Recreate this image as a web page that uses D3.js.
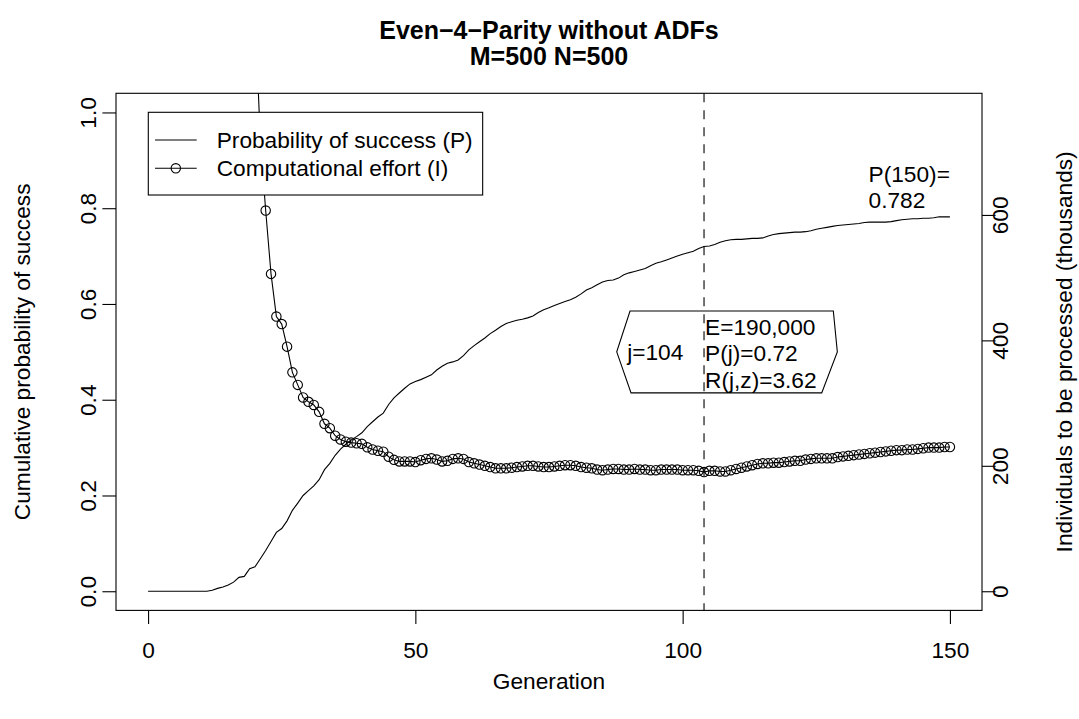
<!DOCTYPE html>
<html><head><meta charset="utf-8">
<script src="https://cdn.jsdelivr.net/npm/d3@7"></script>
<style>
body{margin:0;background:#fff}
text{font-family:"Liberation Sans",Arial,Helvetica,sans-serif;fill:#000}
</style>
</head><body>
<svg id="c" width="1079" height="719"></svg>
<script>
// ---------------- data ----------------
const generations = d3.range(0, 151);
const probSuccess = [
0,0,0,0,0,0,0,0,0,0,0,0,
0.002,0.006,0.009,0.013,0.019,0.029,0.031,0.047,0.051,0.068,
0.085,0.104,0.123,0.131,0.147,0.169,0.184,0.200,0.210,0.220,
0.233,0.254,0.267,0.284,0.297,0.307,0.316,0.323,0.331,0.344,
0.354,0.364,0.372,0.390,0.404,0.414,0.424,0.433,0.438,0.442,
0.447,0.452,0.462,0.470,0.476,0.479,0.483,0.492,0.504,0.513,
0.521,0.529,0.538,0.545,0.553,0.559,0.563,0.566,0.568,0.571,
0.575,0.582,0.588,0.592,0.597,0.601,0.605,0.609,0.614,0.621,
0.629,0.634,0.640,0.646,0.649,0.650,0.654,0.661,0.665,0.668,
0.671,0.674,0.680,0.685,0.688,0.692,0.696,0.700,0.704,0.707,
0.710,0.716,0.720,0.721,0.724,0.729,0.732,0.734,0.735,0.735,
0.736,0.737,0.737,0.738,0.742,0.745,0.747,0.748,0.749,0.750,
0.750,0.751,0.753,0.756,0.758,0.760,0.762,0.764,0.765,0.766,
0.767,0.768,0.770,0.771,0.771,0.771,0.771,0.772,0.774,0.776,
0.777,0.778,0.778,0.779,0.779,0.780,0.782,0.782,0.782
];
// computational effort, thousands of individuals (null where P = 0)
const effortThousands = [
null,null,null,null,null,null,null,null,null,null,null,null,
14950,5355,3820,2816,2041,1408,1389,957,924,720,
607,506,438,426,390,349,329,309,302,297,
286,267,260,248,242,238.5,237,236,235,229.5,
226,224,222.5,214.5,209.5,207,207,207,206,209,
211,212,210,207,208,211,212,211,206,204,
202,200,198,196,196,196,197,198,199,200,
200,199,198,198,199,200,201,201,200,198,
197,196,194,193,194,195,195,194,194,195,
194,194,193,193,194,194,194,194,193,193,
193,192,190,192,192,191,191,193,195,197,
199,201,203,204,204,205,205,206,207,208,
208,210,211,212,212,212,212,214,215,216,
217,218,219,220,221,222,223,224,225,225,
226,226,227,228,229,229,229,230,230
];
const xTicks = [0, 50, 100, 150];
const leftTicks = [0, 0.2, 0.4, 0.6, 0.8, 1.0];
const leftTickLabels = ["0.0", "0.2", "0.4", "0.6", "0.8", "1.0"];
const rightTicks = [0, 200, 400, 600];
const rightTickLabels = ["0", "200", "400", "600"];
const titleLines = ["Even\u22124\u2212Parity without ADFs", "M=500 N=500"];
const legendLabels = ["Probability of success (P)", "Computational effort (I)"];
const bestGen = 104;
const boxRight = ["E=190,000", "P(j)=0.72", "R(j,z)=3.62"];
const boxLeft = "j=104";
const finalLabel = ["P(150)=", "0.782"];
const rightMax = 763.4;

// ---------------- layout ----------------
const FS = 22.7;
const FONT = '"Liberation Sans",Arial,sans-serif';
const plot = {left:116, right:982, top:93.3, bottom:610.4};
const svg = d3.select("#c");
const x = d3.scaleLinear().domain([-6, 156]).range([plot.left, plot.right]);
const yL = d3.scaleLinear().domain([-0.04, 1.04]).range([plot.bottom, plot.top]);
const yR = d3.scaleLinear().domain([-0.04*rightMax, 1.04*rightMax]).range([plot.bottom, plot.top]);

svg.append("rect").attr("width",1079).attr("height",719).attr("fill","#fff");

svg.append("defs").append("clipPath").attr("id","clip")
  .append("rect").attr("x",plot.left).attr("y",plot.top)
  .attr("width",plot.right-plot.left).attr("height",plot.bottom-plot.top);

const gPlot = svg.append("g").attr("clip-path","url(#clip)");

// P line
gPlot.append("path")
  .attr("d", d3.line().x((d,i)=>x(generations[i])).y(d=>yL(d))(probSuccess))
  .attr("fill","none").attr("stroke","#000").attr("stroke-width",1.1);

// I line + points
const effPts = generations.map((g,i)=>({g, v:effortThousands[i]})).filter(d=>d.v!==null);
gPlot.append("path")
  .attr("d", d3.line().x(d=>x(d.g)).y(d=>yR(d.v))(effPts))
  .attr("fill","none").attr("stroke","#000").attr("stroke-width",1.1);
gPlot.selectAll("circle.pt").data(effPts).join("circle")
  .attr("class","pt").attr("cx",d=>x(d.g)).attr("cy",d=>yR(d.v)).attr("r",4.7)
  .attr("fill","none").attr("stroke","#000").attr("stroke-width",1.1);

// vertical dashed line at best generation
svg.append("line").attr("x1",x(bestGen)).attr("x2",x(bestGen))
  .attr("y1",plot.top).attr("y2",plot.bottom)
  .attr("stroke","#000").attr("stroke-width",1.1).attr("stroke-dasharray","9,8");

// plot box
svg.append("rect").attr("x",plot.left).attr("y",plot.top)
  .attr("width",plot.right-plot.left).attr("height",plot.bottom-plot.top)
  .attr("fill","none").attr("stroke","#000").attr("stroke-width",1.1);

// x axis
const ax = svg.append("g").attr("transform",`translate(0,${plot.bottom})`)
  .call(d3.axisBottom(x).tickValues(xTicks).tickSize(13.6).tickFormat(d=>String(d)));
ax.select(".domain").remove();
ax.selectAll("line").attr("stroke","#000").attr("stroke-width",1.1);
ax.selectAll("text").attr("y",48).attr("dy",0).style("font-size",FS+"px").style("font-family",FONT);

// left axis
const al = svg.append("g").attr("transform",`translate(${plot.left},0)`)
  .call(d3.axisLeft(yL).tickValues(leftTicks).tickSize(13.6).tickFormat((d,i)=>leftTickLabels[i]));
al.select(".domain").remove();
al.selectAll("line").attr("stroke","#000").attr("stroke-width",1.1);
al.selectAll("text").attr("x",null).attr("dy",null).attr("text-anchor","middle")
  .attr("transform",`translate(${88-plot.left+0.35*FS},0) rotate(-90)`)
  .style("font-size",FS+"px").style("font-family",FONT);

// right axis
const ar = svg.append("g").attr("transform",`translate(${plot.right},0)`)
  .call(d3.axisRight(yR).tickValues(rightTicks).tickSize(13.6).tickFormat((d,i)=>rightTickLabels[i]));
ar.select(".domain").remove();
ar.selectAll("line").attr("stroke","#000").attr("stroke-width",1.1);
ar.selectAll("text").attr("x",null).attr("dy",null).attr("text-anchor","middle")
  .attr("transform",`translate(${1000-plot.right+0.35*FS},0) rotate(-90)`)
  .style("font-size",FS+"px").style("font-family",FONT);

// axis titles
svg.append("text").attr("x",(plot.left+plot.right)/2).attr("y",681+0.35*FS)
  .attr("text-anchor","middle").style("font-size",FS+"px").text("Generation");
const midY = (plot.top+plot.bottom)/2;
svg.append("text").attr("transform",`translate(${22+0.35*FS},${midY}) rotate(-90)`)
  .attr("text-anchor","middle").style("font-size",FS+"px").text("Cumulative probability of success");
svg.append("text").attr("transform",`translate(${1064+0.35*FS},${midY}) rotate(-90)`)
  .attr("text-anchor","middle").style("font-size",FS+"px").text("Individuals to be processed (thousands)");

// title
const TFS = 25;
titleLines.forEach((t,i)=>{
  svg.append("text").attr("x",(plot.left+plot.right)/2).attr("y",[30,55.5][i]+0.36*TFS)
    .attr("text-anchor","middle").style("font-size",TFS+"px").style("font-weight","bold").text(t);
});

// legend
const lg = svg.append("g");
const lgBox = lg.append("rect").attr("x",148.3).attr("y",112.3).attr("height",82.7)
  .attr("fill","#fff").attr("stroke","#000").attr("stroke-width",1.1);
const rowY = [140, 168.3];
let maxW = 0;
legendLabels.forEach((t,i)=>{
  lg.append("line").attr("x1",155).attr("x2",196.7).attr("y1",rowY[i]).attr("y2",rowY[i])
    .attr("stroke","#000").attr("stroke-width",1.1);
  const tx = lg.append("text").attr("x",216.7).attr("y",rowY[i]+0.35*FS)
    .style("font-size",FS+"px").text(t);
  maxW = Math.max(maxW, tx.node().getComputedTextLength());
});
lg.append("circle").attr("cx",175.8).attr("cy",rowY[1]).attr("r",4.7)
  .attr("fill","none").attr("stroke","#000").attr("stroke-width",1.1);
lgBox.attr("width", 216.7 + maxW + 10 - 148.3);

// annotation box centred on (bestGen, 0.5)
const cx = x(bestGen), cy = yL(0.5);
const poly = [[-74,-40.8],[129.3,-40.8],[133.3,0],[117.7,41],[-73,41],[-87.3,0]];
svg.append("polygon").attr("points", poly.map(p=>[cx+p[0],cy+p[1]].join(",")).join(" "))
  .attr("fill","none").attr("stroke","#000").attr("stroke-width",1.1);
svg.append("text").attr("x",cx-20.7).attr("y",cy+0.35*FS).attr("text-anchor","end")
  .style("font-size",FS+"px").text(boxLeft);
boxRight.forEach((t,i)=>{
  svg.append("text").attr("x",cx+1).attr("y",cy-25+i*26.65+0.35*FS)
    .style("font-size",FS+"px").text(t);
});

// final P label
const fl1 = svg.append("text").style("font-size",FS+"px").text(finalLabel[0]);
const w1 = fl1.node().getComputedTextLength();
const fx = x(150) - w1;
const fy = yL(probSuccess[150]);
fl1.attr("x",fx).attr("y",fy-43.1+0.35*FS);
svg.append("text").attr("x",fx).attr("y",fy-16.4+0.35*FS).style("font-size",FS+"px").text(finalLabel[1]);
</script>
</body></html>
